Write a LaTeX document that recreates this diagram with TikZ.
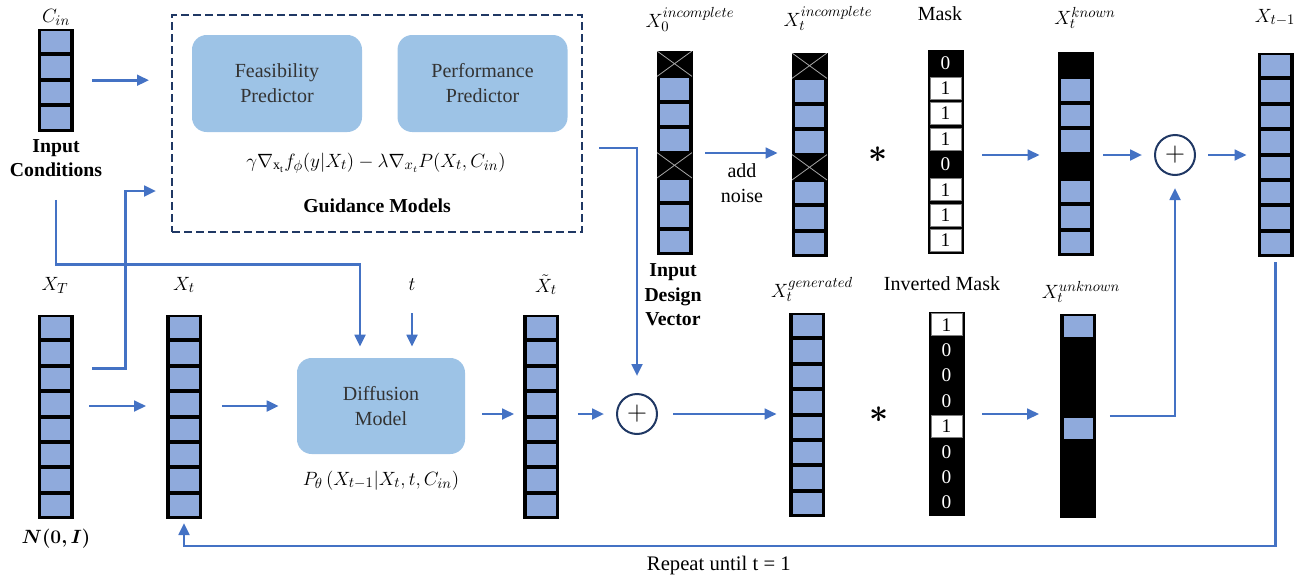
\documentclass[tikz,border=0pt]{standalone}
\usepackage{bm}
\usepackage{fontspec}
\setmainfont{Liberation Serif}
\usepackage{tikz}
\usetikzlibrary{arrows.meta,positioning,calc}
\definecolor{cellblue}{HTML}{8FAADC}
\definecolor{flowblue}{HTML}{4472C4}
\definecolor{predblue}{HTML}{9DC3E6}
\definecolor{navy}{HTML}{203864}
% one vector column: name, x, top y, number of cells, cell styles
\newcommand\vcol[5]{%
  \node[colframe,minimum height=#4*19.05pt] (#1) at (#2,#3) {};
  \foreach \s [count=\i] in {#5}
    \node[cell,\s,name=#1-\i,at={($(#1.north)+(0,{(\i-0.5)*25.4})$)}];
}
\begin{document}
\begin{tikzpicture}[x=0.75pt,y=-0.75pt,
colframe/.style={fill=black,draw=black,line width=0.6pt,minimum width=26.25pt,inner sep=0,anchor=north},
cell/.style={inner sep=0,node contents={},minimum width=21.75pt,minimum height=16.05pt,font=\fontsize{14.5}{16}\selectfont},
cb/.style={fill=cellblue},
ck/.style={},
cx/.style={minimum width=26.25pt,minimum height=19.05pt,path picture={\draw[gray!70,line width=0.6pt](path picture bounding box.north west)--(path picture bounding box.south east)(path picture bounding box.north east)--(path picture bounding box.south west);}},
m0/.style={text=white,node contents=0},
m1/.style={fill=white,draw=gray,line width=0.4pt,minimum width=23.25pt,minimum height=16.5pt,node contents=1},
predbox/.style={fill=predblue,rounded corners=11pt,minimum width=127.5pt,minimum height=72.75pt,align=center,text=black!80,font=\fontsize{15}{18.75}\selectfont},
guidebox/.style={draw=navy,dash pattern=on 6pt off 3pt,line width=1.5pt,minimum width=307.5pt,minimum height=162.75pt},
plus/.style={circle,draw=navy,line width=1.5pt,minimum size=30pt,inner sep=0,font=\fontsize{20}{20}\selectfont},
lab/.style={anchor=base,inner sep=0,font=\fontsize{15}{17}\selectfont},
mlab/.style={anchor=base,inner sep=0,font=\fontsize{15}{17}\selectfont},
boldlab/.style={align=center,inner sep=0,font=\fontsize{14.8}{18.5}\selectfont\bfseries},
arr/.style={-{Triangle[length=9pt,width=8pt]},draw=flowblue,line width=2pt}]
\useasboundingbox (0,0) rectangle (1311,575);
% guidance models
\node[guidebox] (guid) at (377,123.5) {};
\node[predbox] (feas) at (277,83.5) {Feasibility\\Predictor};
\node[predbox,right=26.25pt of feas] (perf) {Performance\\Predictor};
\node[mlab] (gform) at (376,167) {$\gamma\nabla_{\mathrm{x}_\mathrm{t}}f_\phi(y|X_t)-\lambda\nabla_{x_t}P(X_t,C_{in})$};
\node[boldlab,anchor=base] (gname) at (377,212) {Guidance Models};
% diffusion model
\node[predbox,minimum width=126pt,minimum height=72pt] (diff) at (381,406) {Diffusion\\Model};
\node[mlab] (pform) at (381,485) {$P_\theta\,(X_{t-1}|X_t,t,C_{in})$};
% vectors
\vcol{cin}{55.5}{29}{4}{cb,cb,cb,cb}
\vcol{xT}{55.5}{315}{8}{cb,cb,cb,cb,cb,cb,cb,cb}
\vcol{xt}{184}{315}{8}{cb,cb,cb,cb,cb,cb,cb,cb}
\vcol{xtil}{541}{315}{8}{cb,cb,cb,cb,cb,cb,cb,cb}
\vcol{x0inc}{674.5}{51}{8}{cx,cb,cb,cb,cx,cb,cb,cb}
\vcol{xtinc}{809.5}{53}{8}{cx,cb,cb,cb,cx,cb,cb,cb}
\vcol{mask}{945.5}{50}{8}{m0,m1,m1,m1,m0,m1,m1,m1}
\vcol{known}{1075.5}{52}{8}{ck,cb,cb,cb,ck,cb,cb,cb}
\vcol{xprev}{1275.5}{53}{8}{cb,cb,cb,cb,cb,cb,cb,cb}
\vcol{gen}{807}{313}{8}{cb,cb,cb,cb,cb,cb,cb,cb}
\vcol{imask}{946.5}{312}{8}{m1,m0,m0,m0,m1,m0,m0,m0}
\vcol{unknown}{1078}{314}{8}{cb,ck,ck,ck,cb,ck,ck,ck}
% labels
\node[mlab] (lcin) at (56,22) {$C_{in}$};
\node[mlab] (lx0) at (690,27) {$X_0^{incomplete}$};
\node[mlab] (lxtinc) at (828,26) {$X_t^{incomplete}$};
\node[lab] (lmask) at (940,20) {Mask};
\node[mlab] (lknown) at (1085,24) {$X_t^{known}$};
\node[mlab] (lprev) at (1275,22) {$X_{t-1}$};
\node[mlab] (lxT) at (55,290) {$X_T$};
\node[mlab] (lxt) at (184,290) {$X_t$};
\node[mlab] (tlab) at (412,290) {$t$};
\node[mlab] (lxtil) at (546,292) {$\tilde X_t$};
\node[mlab] (lgen) at (812,297) {$X_t^{generated}$};
\node[lab] (limask) at (942,290) {Inverted Mask};
\node[mlab] (lunknown) at (1081,298) {$X_t^{unknown}$};
\node[boldlab] (incond) at (56,158) {Input\\Conditions};
\node[boldlab] (idv) at (673,295) {Input\\Design\\Vector};
\node[mlab] (normal) at (56,543) {$\bm{N(0,I)}$};
\node[plus] (plusA) at (637,414) {$+$};
\node[plus] (plusB) at (1175,155) {$+$};
\node[font=\fontsize{24}{24}\selectfont] (star1) at (878,155) {$\bm{\ast}$};
\node[font=\fontsize{24}{24}\selectfont] (star2) at (879,415) {$\bm{\ast}$};
% connectors
\draw[arr,shorten <=14.25pt,shorten >=16.5pt] (cin.east) -- (cin.east -| guid.west);
\draw[arr] ($(xT.east)+(19,-48.5)$) -- ++(33,0) |- ($(guid.west)+(-15,67.5)$);
\draw[arr,shorten <=17pt,shorten >=8.25pt] (incond.south) |- ($(diff.north)+(-21,-93)$) -- ($(diff.north)+(-21,0)$);
\draw[arr,shorten <=17.25pt,shorten >=8.25pt] (tlab.south) -- (tlab.south |- diff.north);
\draw[arr,shorten <=12pt,shorten >=15pt] (xT.east |- diff) -- (xt.west |- diff);
\draw[arr,shorten <=15pt,shorten >=13.5pt] (xt.east |- diff) -- (diff.west);
\draw[arr,shorten <=12.75pt,shorten >=6.75pt] (diff.east |- plusA) -- (xtil.west |- plusA);
\draw[arr,shorten <=14.25pt,shorten >=9pt] (xtil.east |- plusA) -- (plusA.west);
\draw[arr,shorten <=11.25pt,shorten >=9.4pt] (plusA.east) -- (plusA -| gen.west);
\draw[arr,shorten >=12.75pt] ($(guid.east)+(16,24.5)$) -| (plusA);
\draw[arr,shorten <=9.75pt,shorten >=10.5pt] (x0inc.east) -- (x0inc.east -| xtinc.west)
  node[midway,below=7pt,align=center,inner sep=0,font=\fontsize{15}{18.75}\selectfont] (addn) {add\\noise};
\draw[arr,shorten <=14.25pt,shorten >=13.5pt] (mask.east |- plusB) -- (known.west |- plusB);
\draw[arr,shorten <=7.5pt,shorten >=9pt] (known.east |- plusB) -- (plusB.west);
\draw[arr,shorten <=9pt,shorten >=8.25pt] (plusB.east) -- (plusB -| xprev.west);
\draw[arr,shorten <=13.5pt,shorten >=15.75pt] (imask.east) -- (imask.east -| unknown.west);
\draw[arr,shorten <=10.5pt,shorten >=9pt] (unknown.east) -| (plusB);
\draw[arr,shorten <=3.75pt,shorten >=3pt] (xprev.south) |- node[pos=0.755,below=6.75pt,inner sep=0,font=\fontsize{15.5}{17}\selectfont] (rep) {Repeat until t = 1} ($(xt.south)+(0,27)$) -- (xt.south);
\end{tikzpicture}
\end{document}
